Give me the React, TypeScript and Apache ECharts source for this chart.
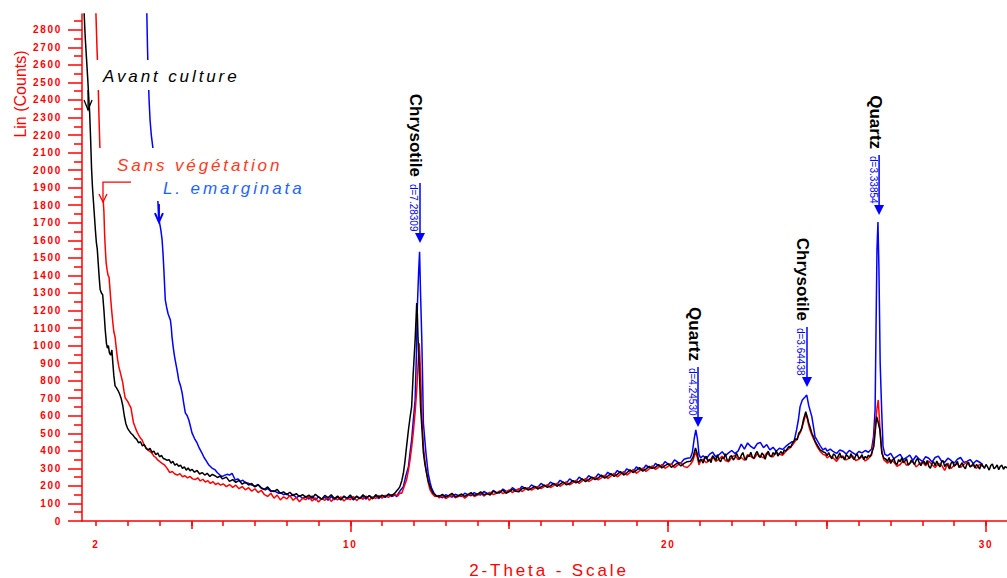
import React, { useEffect, useRef } from 'react';
import * as echarts from 'echarts';

// ---------- data (2-Theta, Lin counts) ----------
const avantCulture: number[][] = [
  [1.60,3050],[1.63,2880],[1.66,2760],[1.70,2640],[1.74,2520],[1.77,2420],[1.80,2330],[1.83,2180],[1.86,2010],[1.89,1900],
  [1.92,1820],[1.95,1740],[1.98,1660],[2.01,1590],[2.04,1550],[2.07,1470],[2.10,1390],[2.13,1320],[2.17,1300],[2.21,1290],
  [2.25,1200],[2.29,1090],[2.33,1010],[2.36,985],[2.39,1000],[2.42,960],[2.46,945],[2.50,975],[2.53,900],[2.56,830],
  [2.60,770],[2.64,760],[2.69,745],[2.74,725],[2.79,700],[2.84,660],[2.89,600],[2.94,555],[2.99,530],[3.04,515],
  [3.10,500],[3.16,490],[3.22,475],[3.28,465],[3.34,445],[3.40,452],[3.46,428],[3.52,436],[3.58,412],[3.64,405],
  [3.70,414],[3.76,392],[3.82,398],[3.88,378],[3.94,388],[4.00,366],[4.06,374],[4.12,356],[4.18,352],[4.24,346],
  [4.30,350],[4.36,330],[4.42,340],[4.48,318],[4.54,326],[4.60,312],[4.66,318],[4.72,300],[4.78,308],[4.84,290],
  [4.90,302],[4.96,286],[5.02,295],[5.10,278],[5.18,288],[5.26,268],[5.34,276],[5.42,262],[5.50,272],[5.58,254],
  [5.66,266],[5.74,258],[5.82,248],[5.90,256],[5.98,240],
  [6.1,250],[6.2,226],[6.3,236],[6.4,220],[6.5,232],[6.6,210],[6.7,222],[6.8,205],[6.9,214],[7.0,194],
  [7.1,206],[7.2,186],[7.3,180],[7.4,194],[7.5,172],[7.6,168],[7.7,180],[7.8,158],[7.9,166],[8.0,150],
  [8.1,164],[8.2,144],[8.3,156],[8.4,140],[8.5,150],[8.6,136],[8.7,148],[8.8,130],[8.9,152],[9.0,138],
  [9.1,124],[9.2,146],[9.3,132],[9.4,150],[9.5,128],[9.6,142],[9.7,122],[9.8,140],[9.9,130],[10.0,148],
  [10.1,124],[10.2,140],[10.3,128],[10.4,150],[10.5,132],[10.6,144],[10.7,126],[10.8,150],[10.9,135],[11.0,148],
  [11.1,138],[11.2,154],[11.3,145],
  [11.41,160],[11.46,172],[11.51,182],[11.56,196],[11.62,230],[11.67,272],[11.72,340],[11.77,424],[11.83,520],[11.88,590],
  [11.93,652],[11.98,843],[12.04,1032],[12.09,1243],[12.11,1180],[12.13,1050],[12.15,960],[12.17,880],[12.21,652],[12.25,538],
  [12.30,388],[12.35,320],[12.40,274],[12.45,230],[12.51,196],[12.56,175],[12.60,160],[12.66,150],[12.72,142],
  [12.8,140],[12.9,152],[13.0,136],[13.1,146],[13.2,158],[13.3,138],[13.4,144],[13.5,154],[13.6,140],[13.7,150],
  [13.8,162],[13.9,146],[14.0,152],[14.1,166],[14.2,150],[14.3,156],[14.4,148],[14.5,170],[14.6,160],[14.7,164],
  [14.8,176],[14.9,158],[15.0,168],[15.1,180],[15.2,170],[15.3,166],[15.4,184],[15.5,190],[15.6,176],[15.7,186],
  [15.8,198],[15.9,182],[16.0,194],[16.1,204],[16.2,192],[16.3,200],[16.4,215],[16.5,198],[16.6,210],[16.7,222],
  [16.8,206],[16.9,214],[17.0,230],[17.1,218],[17.2,226],[17.3,240],[17.4,224],[17.5,236],[17.6,250],[17.7,236],
  [17.8,245],[17.9,262],[18.0,244],[18.1,256],[18.2,270],[18.3,254],[18.4,266],[18.5,282],[18.6,262],[18.7,275],
  [18.8,292],[18.9,276],[19.0,288],[19.1,305],[19.2,284],[19.3,296],[19.4,312],[19.5,300],[19.6,306],[19.7,322],
  [19.8,302],[19.9,316],[20.0,326],[20.1,306],[20.2,318],[20.3,332],[20.4,314],[20.5,328],[20.6,338],
  [20.7,340],[20.78,362],[20.86,416],[20.92,380],[20.97,335],[21.02,352],
  [21.05,348],[21.1,330],[21.15,362],[21.2,368],[21.25,341],[21.3,352],[21.35,333],[21.4,372],[21.45,360],[21.5,345],
  [21.55,378],[21.6,350],[21.65,338],[21.7,362],[21.75,355],[21.8,384],[21.85,350],[21.9,342],[21.95,368],[22.0,372],
  [22.05,348],[22.1,360],[22.15,386],[22.2,366],[22.25,352],[22.3,375],[22.35,390],[22.4,360],[22.45,348],[22.5,372],
  [22.55,368],[22.6,392],[22.65,364],[22.7,358],[22.75,384],[22.8,396],[22.85,370],[22.9,362],[22.95,388],[23.0,376],
  [23.05,352],[23.1,380],[23.15,398],[23.2,372],[23.25,365],[23.3,390],[23.35,378],[23.4,402],[23.45,370],[23.5,384],
  [23.55,396],[23.6,380],[23.65,405],[23.7,398],[23.75,412],[23.8,425],[23.85,418],[23.9,440],
  [24.0,468],[24.06,462],[24.11,500],[24.16,512],[24.20,528],[24.26,580],[24.33,623],[24.38,590],[24.42,560],[24.46,538],
  [24.52,500],[24.57,481],[24.62,455],[24.70,430],[24.78,405],[24.87,395],[24.95,388],
  [25.0,372],[25.05,390],[25.1,368],[25.15,355],[25.2,382],[25.25,376],[25.3,352],[25.35,370],[25.4,388],[25.45,360],
  [25.5,366],[25.55,348],[25.6,378],[25.65,370],[25.7,355],[25.75,384],[25.8,362],[25.85,350],[25.9,372],[25.95,380],
  [26.0,356],[26.05,364],[26.1,378],[26.15,350],[26.2,368],[26.25,358],[26.3,375],[26.35,366],[26.4,385],
  [26.47,424],[26.52,520],[26.56,595],[26.61,560],[26.66,519],[26.72,388],[26.78,360],
  [26.85,352],[26.9,340],[26.95,362],[27.0,328],[27.05,345],[27.1,356],[27.15,330],[27.2,322],[27.25,350],[27.3,338],
  [27.35,360],[27.4,332],[27.45,342],[27.5,355],[27.55,318],[27.6,326],[27.65,348],[27.7,336],[27.75,322],[27.8,345],
  [27.85,358],[27.9,330],[27.95,316],[28.0,334],[28.05,340],[28.1,320],[28.15,345],[28.2,312],[28.25,300],[28.3,328],
  [28.35,338],[28.4,315],[28.45,342],[28.5,322],[28.55,308],[28.6,336],[28.65,344],[28.7,310],[28.75,326],[28.8,318],
  [28.85,296],[28.9,330],[28.95,338],[29.0,312],[29.05,322],[29.1,340],[29.15,305],[29.2,318],[29.25,332],[29.3,310],
  [29.35,298],[29.4,325],[29.45,335],[29.5,308],[29.55,316],[29.6,330],[29.65,302],[29.7,322],[29.75,312],[29.8,296],
  [29.85,326],[29.9,315],[29.95,300],[30.0,322],[30.05,308],[30.1,290],[30.15,316],[30.2,325],[30.25,298],[30.3,306],
  [30.35,320],[30.4,292],[30.45,312],[30.5,318],[30.55,295],[30.6,310],[30.66,302]
];

const sansVegetation: number[][] = [
  [1.97,3100],[2.00,2880],[2.03,2700],[2.06,2560],[2.09,2330],[2.12,2140],[2.16,2000],[2.19,1940],[2.22,1850],[2.25,1760],
  [2.27,1640],[2.29,1560],[2.32,1470],[2.35,1430],[2.38,1400],[2.41,1390],[2.44,1320],[2.47,1250],[2.50,1186],[2.53,1130],
  [2.56,1080],[2.60,1049],[2.64,980],[2.68,920],[2.72,878],[2.76,850],[2.80,820],[2.84,790],[2.88,740],[2.92,700],
  [2.96,692],[3.00,680],[3.05,662],[3.10,645],[3.14,600],[3.18,560],[3.23,536],[3.28,512],[3.34,490],[3.40,472],
  [3.45,462],[3.52,432],[3.58,416],[3.64,404],[3.70,396],[3.76,386],[3.82,370],[3.88,362],[3.94,348],[4.00,340],
  [4.08,328],[4.16,318],[4.24,300],[4.32,276],[4.40,282],[4.48,268],[4.56,262],[4.64,270],[4.72,252],[4.80,258],
  [4.88,246],[4.96,254],[5.04,240],[5.12,236],[5.20,246],[5.28,228],[5.36,238],[5.44,222],[5.52,230],[5.60,214],
  [5.68,224],[5.76,208],[5.84,216],[5.92,204],
  [6.0,212],[6.1,196],[6.2,208],[6.3,192],[6.4,204],[6.5,184],[6.6,196],[6.7,178],[6.8,190],[6.9,170],
  [7.0,184],[7.1,162],[7.2,175],[7.3,150],[7.4,140],[7.5,158],[7.6,130],[7.7,148],[7.8,120],[7.9,138],
  [8.0,126],[8.1,145],[8.2,118],[8.3,134],[8.4,110],[8.5,130],[8.6,122],[8.7,140],[8.8,114],[8.9,132],
  [9.0,108],[9.1,128],[9.2,118],[9.3,136],[9.4,112],[9.5,130],[9.6,120],[9.7,138],[9.8,114],[9.9,130],
  [10.0,122],[10.1,140],[10.2,116],[10.3,135],[10.4,124],[10.5,142],[10.6,118],[10.7,138],[10.8,128],[10.9,145],
  [11.0,130],[11.1,146],[11.2,134],[11.3,150],
  [11.41,150],[11.50,144],[11.56,160],[11.62,158],[11.70,200],[11.77,234],[11.83,290],[11.88,348],[11.93,420],[11.98,500],
  [12.04,620],[12.09,747],[12.13,880],[12.17,1013],[12.21,850],[12.25,614],[12.30,424],[12.35,340],[12.40,272],[12.45,220],
  [12.51,177],[12.58,155],[12.66,139],[12.72,145],
  [12.8,132],[12.9,146],[13.0,128],[13.1,138],[13.2,150],[13.3,132],[13.4,140],[13.5,148],[13.6,130],[13.7,145],
  [13.8,156],[13.9,140],[14.0,148],[14.1,160],[14.2,142],[14.3,155],[14.4,164],[14.5,150],[14.6,158],[14.7,172],
  [14.8,156],[14.9,166],[15.0,178],[15.1,162],[15.2,174],[15.3,184],[15.4,168],[15.5,180],[15.6,190],[15.7,176],
  [15.8,186],[15.9,198],[16.0,184],[16.1,196],[16.2,208],[16.3,190],[16.4,202],[16.5,215],[16.6,198],[16.7,210],
  [16.8,224],[16.9,206],[17.0,218],[17.1,232],[17.2,214],[17.3,228],[17.4,242],[17.5,225],[17.6,236],[17.7,250],
  [17.8,234],[17.9,246],[18.0,260],[18.1,242],[18.2,256],[18.3,272],[18.4,252],[18.5,266],[18.6,282],[18.7,262],
  [18.8,276],[18.9,294],[19.0,272],[19.1,286],[19.2,302],[19.3,282],[19.4,296],[19.5,315],[19.6,294],[19.7,306],
  [19.8,322],[19.9,300],[20.0,312],[20.1,326],[20.2,304],[20.3,318],[20.4,332],[20.5,310],[20.6,305],
  [20.7,322],[20.78,345],[20.86,393],[20.92,360],[20.97,320],[21.02,342],
  [21.1,352],[21.2,332],[21.3,345],[21.4,366],[21.5,340],[21.6,352],[21.7,370],[21.8,345],[21.9,338],[22.0,362],
  [22.1,375],[22.2,350],[22.3,362],[22.4,346],[22.5,378],[22.6,368],[22.7,355],[22.8,382],[22.9,370],[23.0,360],
  [23.1,388],[23.2,372],[23.3,366],[23.4,392],[23.5,380],[23.6,374],[23.7,398],[23.8,412],[23.9,430],
  [24.0,455],[24.06,470],[24.11,490],[24.16,505],[24.21,530],[24.27,570],[24.33,610],[24.38,582],[24.42,545],[24.46,520],
  [24.52,490],[24.57,470],[24.62,450],[24.70,420],[24.78,398],[24.87,380],[24.95,375],
  [25.0,360],[25.1,372],[25.2,358],[25.3,340],[25.4,366],[25.5,370],[25.6,348],[25.7,358],[25.8,372],[25.9,345],
  [26.0,352],[26.1,368],[26.2,342],[26.3,356],[26.4,375],
  [26.47,460],[26.52,557],[26.57,640],[26.61,690],[26.66,538],[26.72,405],[26.78,350],
  [26.9,330],[27.0,348],[27.1,336],[27.2,312],[27.3,322],[27.4,345],[27.5,318],[27.6,330],[27.7,340],[27.8,308],
  [27.9,325],[28.0,336],[28.1,315],[28.2,342],[28.3,320],[28.4,305],[28.5,328],[28.6,318],[28.7,288],[28.8,330],
  [28.9,300],[29.0,318],[29.1,326],[29.2,305],[29.3,322],[29.4,335],[29.5,310],[29.6,318],[29.7,300],[29.8,324],
  [29.9,310]
];

const lEmarginata: number[][] = [
  [3.56,3100],[3.60,2884],[3.62,2700],[3.64,2560],[3.67,2400],[3.70,2287],[3.74,2200],[3.79,2127],[3.84,2050],[3.90,1940],
  [3.94,1850],[3.97,1735],[4.00,1700],[4.04,1660],[4.08,1602],[4.11,1520],[4.14,1414],[4.18,1260],[4.22,1220],[4.27,1180],
  [4.34,1146],[4.37,1100],[4.39,1051],[4.43,990],[4.46,950],[4.49,918],[4.53,880],[4.57,840],[4.60,804],[4.66,770],
  [4.71,730],[4.76,670],[4.81,616],[4.87,600],[4.92,576],[4.97,540],[5.02,502],[5.10,470],[5.18,445],[5.25,415],
  [5.33,388],[5.40,362],[5.48,340],[5.55,319],[5.65,302],[5.75,291],[5.82,275],[5.90,262],[5.96,253],
  [6.04,260],[6.12,266],[6.20,262],[6.28,272],[6.38,234],[6.46,240],[6.54,226],[6.62,232],[6.70,218],[6.80,215],
  [6.9,205],[7.0,198],[7.1,208],[7.2,190],[7.33,177],[7.4,185],[7.5,168],[7.6,172],[7.75,158],[7.8,162],
  [7.9,150],[8.0,156],[8.1,140],[8.2,152],[8.3,132],[8.4,145],[8.5,128],[8.6,140],[8.7,125],[8.8,142],
  [8.9,120],[9.0,138],[9.1,125],[9.2,135],[9.3,118],[9.4,140],[9.5,122],[9.6,136],[9.7,120],[9.8,142],
  [9.9,125],[10.0,138],[10.1,120],[10.2,142],[10.3,128],[10.4,140],[10.5,125],[10.6,145],[10.7,130],[10.8,142],
  [10.9,128],[11.0,145],[11.1,135],[11.2,150],[11.3,140],
  [11.41,148],[11.46,139],[11.52,160],[11.58,175],[11.67,196],[11.75,260],[11.83,310],[11.88,390],[11.93,462],[11.98,570],
  [12.04,690],[12.08,950],[12.11,1221],[12.15,1420],[12.18,1535],[12.21,1300],[12.25,1032],[12.28,760],[12.30,557],[12.38,388],
  [12.45,272],[12.51,220],[12.56,186],[12.63,160],[12.72,139],
  [12.8,145],[12.9,132],[13.0,150],[13.1,142],[13.2,136],[13.3,152],[13.4,146],[13.5,140],[13.6,158],[13.7,150],
  [13.8,144],[13.9,162],[14.0,152],[14.1,148],[14.2,168],[14.3,158],[14.4,154],[14.5,174],[14.6,162],[14.7,160],
  [14.8,182],[14.9,170],[15.0,168],[15.1,190],[15.2,178],[15.3,176],[15.4,198],[15.5,186],[15.6,184],[15.7,206],
  [15.8,194],[15.9,192],[16.0,214],[16.1,202],[16.2,200],[16.3,222],[16.4,210],[16.5,208],[16.6,232],[16.7,220],
  [16.8,216],[16.9,240],[17.0,228],[17.1,225],[17.2,250],[17.3,236],[17.4,234],[17.5,258],[17.6,246],[17.7,244],
  [17.8,268],[17.9,255],[18.0,252],[18.1,278],[18.2,264],[18.3,262],[18.4,288],[18.5,274],[18.6,272],[18.7,298],
  [18.8,284],[18.9,282],[19.0,308],[19.1,294],[19.2,292],[19.3,318],[19.4,304],[19.5,300],[19.6,328],[19.7,314],
  [19.8,312],[19.9,338],[20.0,325],[20.1,322],[20.2,348],[20.3,335],[20.4,330],[20.5,352],[20.6,358],
  [20.7,360],[20.76,390],[20.82,470],[20.87,519],[20.92,470],[20.97,380],[21.02,360],
  [21.1,372],[21.2,355],[21.3,380],[21.4,392],[21.5,365],[21.6,378],[21.7,395],[21.8,372],[21.9,388],[22.0,402],
  [22.1,385],[22.2,398],[22.3,438],[22.4,410],[22.5,445],[22.6,425],[22.7,412],[22.8,440],[22.9,448],[23.0,418],
  [23.1,436],[23.2,405],[23.3,420],[23.4,398],[23.5,415],[23.6,408],[23.7,425],[23.8,440],[23.9,452],
  [23.95,445],[24.04,519],[24.10,580],[24.15,652],[24.22,690],[24.30,705],[24.36,718],[24.42,660],[24.52,595],[24.57,540],
  [24.62,481],[24.71,452],[24.78,430],[24.87,405],[24.95,415],
  [25.0,398],[25.1,410],[25.2,395],[25.3,385],[25.4,405],[25.5,398],[25.6,382],[25.7,402],[25.8,390],[25.9,378],
  [26.0,396],[26.1,388],[26.2,402],[26.3,392],[26.4,410],
  [26.46,480],[26.51,633],[26.54,1100],[26.57,1550],[26.60,1704],[26.63,1450],[26.67,900],[26.72,616],[26.76,424],[26.82,380],
  [26.9,372],[27.0,385],[27.1,356],[27.2,368],[27.3,380],[27.4,350],[27.5,362],[27.6,375],[27.7,345],[27.8,372],
  [27.9,352],[28.0,340],[28.1,366],[28.2,358],[28.3,336],[28.4,362],[28.5,370],[28.6,342],[28.7,335],[28.8,358],
  [28.9,345],[29.0,330],[29.1,352],[29.2,362],[29.3,334],[29.4,340],[29.5,350],[29.6,328],[29.7,345],[29.8,335],
  [29.9,322]
];

// ---------- axes ----------
const yTickValues = [0,100,200,300,400,500,600,700,800,900,1000,1100,1200,1300,1400,1500,1600,1700,1800,1900,2000,2100,2200,2300,2400,2500,2600,2700,2800];
const yMinorTickValues = [50,150,250,350,450,550,650,750,850,950,1050,1150,1250,1350,1450,1550,1650,1750,1850,1950,2050,2150,2250,2350,2450,2550,2650,2750,2850];
const xSmallTicks = [2,3,4,5,6,7,8,9,10,11,12,13,14,15,16,17,18,19,20,21,22,23,24,25,26,27,28,29,30];
const xMidTicks = [5,15,25];
const xBigTicks = [10,20,30];
const xTickLabels = [2,10,20,30];

// ---------- peak annotations ----------
const peakNotes = [
  { phase: 'Chrysotile', d: 'd=7.28309', x: 12.193, tip: 1585 },
  { phase: 'Quartz', d: 'd=4.24530', x: 20.939, tip: 536 },
  { phase: 'Chrysotile', d: 'd=3.64438', x: 24.368, tip: 764 },
  { phase: 'Quartz', d: 'd=3.33854', x: 26.636, tip: 1744 }
];

const RED = '#ff0000';
const SPACED = 'Arimo, "Liberation Sans", Arial, sans-serif';
const PLAIN = '"Liberation Sans", Arial, sans-serif';
const css = `.xrd text[style*="Arimo"]{letter-spacing:0.17em;}`;

export default function App() {
  const ref = useRef<HTMLDivElement>(null);
  useEffect(() => {
    document.body.style.margin = '0';
    const chart = echarts.init(ref.current!, null, { renderer: 'svg', width: 1007, height: 578 });
    const tickStyle = { color: RED, width: 1.5 };
    const xBase = {
      type: 'value', min: 1.5596, max: 30.66, position: 'bottom',
      splitLine: { show: false }, axisLine: { show: false, onZero: false },
      axisLabel: { show: false }
    };
    const yBase = {
      type: 'value', min: 0, max: 2890, position: 'left',
      splitLine: { show: false }, axisLine: { show: false, onZero: false },
      axisLabel: { show: false }
    };
    const line = (data: number[][], color: string, name: string) => ({
      type: 'line', name, data, showSymbol: false, symbol: 'none', clip: true,
      lineStyle: { color, width: 1.5 }, itemStyle: { color }, silent: true
    });
    chart.setOption({
      animation: false,
      grid: { left: 82, right: 0, top: 14, bottom: 57 },
      xAxis: [
        {
          ...xBase,
          axisLine: { show: true, onZero: false, lineStyle: { color: RED, width: 1.5 } },
          axisTick: { show: true, customValues: xSmallTicks, length: 5, lineStyle: tickStyle },
          axisLabel: {
            show: true, customValues: xTickLabels, margin: 18, color: RED, fontSize: 10,
            fontWeight: 'bold', fontFamily: SPACED, formatter: (v: number) => String(v)
          }
        },
        { ...xBase, axisTick: { show: true, customValues: xMidTicks, length: 8, lineStyle: tickStyle } },
        { ...xBase, axisTick: { show: true, customValues: xBigTicks, length: 11, lineStyle: tickStyle } }
      ],
      yAxis: [
        {
          ...yBase,
          axisLine: { show: true, onZero: false, lineStyle: { color: RED, width: 1.5 } },
          axisTick: { show: true, customValues: yTickValues, length: 14, lineStyle: tickStyle },
          axisLabel: {
            show: true, customValues: yTickValues, margin: 20, color: RED, fontSize: 10,
            fontWeight: 'bold', fontFamily: SPACED, formatter: (v: number) => String(v)
          }
        },
        { ...yBase, axisTick: { show: true, customValues: yMinorTickValues, length: 8, lineStyle: tickStyle } }
      ],
      series: [
        line(lEmarginata, '#0000ff', 'L. emarginata'),
        line(sansVegetation, '#ff0000', 'Sans végétation'),
        line(avantCulture, '#000000', 'Avant culture')
      ]
    });

    const px = (x: number, y: number) => chart.convertToPixel({ seriesIndex: 0 }, [x, y]) as number[];
    const g: any[] = [];
    const txt = (o: any) => ({
      type: 'text', z: 101, x: o.x, y: o.y, rotation: o.rotation || 0,
      style: {
        text: o.text, fill: o.fill, fontSize: o.fontSize, fontFamily: o.fontFamily,
        fontWeight: o.fontWeight || 'normal', fontStyle: o.fontStyle || 'normal',
        align: o.align, verticalAlign: 'middle', textAlign: o.align, textVerticalAlign: 'middle'
      }
    });

    // white masks behind the legend notes
    g.push({ type: 'rect', z: 100, shape: { x: 95, y: 60, width: 150, height: 30 }, style: { fill: '#ffffff' } });
    g.push({ type: 'rect', z: 100, shape: { x: 95, y: 148, width: 215, height: 53 }, style: { fill: '#ffffff' } });

    // legend notes
    g.push(txt({ x: 103, y: 76, text: 'Avant culture', fill: '#000000', fontSize: 17, fontFamily: SPACED, fontStyle: 'italic', align: 'left' }));
    g.push(txt({ x: 117, y: 165.5, text: 'Sans végétation', fill: '#ff3a1a', fontSize: 17, fontFamily: SPACED, fontStyle: 'italic', align: 'left' }));
    g.push(txt({ x: 163, y: 188.5, text: 'L. emarginata', fill: '#1e64ff', fontSize: 17, fontFamily: SPACED, fontStyle: 'italic', align: 'left' }));

    // legend arrows (tips placed on the curves)
    const bt = px(1.75, 2343);
    g.push({ type: 'line', z: 101, shape: { x1: bt[0], y1: bt[1] - 20, x2: bt[0], y2: bt[1] }, style: { stroke: '#000', lineWidth: 1.3 } });
    g.push({ type: 'polyline', z: 101, shape: { points: [[bt[0] - 4, bt[1] - 10], [bt[0], bt[1]], [bt[0] + 4, bt[1] - 10]] }, style: { stroke: '#000', lineWidth: 1.3, fill: 'none' } });
    const rt = px(2.22, 1818);
    g.push({ type: 'polyline', z: 101, shape: { points: [[rt[0] + 28, rt[1] - 20], [rt[0], rt[1] - 20], [rt[0], rt[1]]] }, style: { stroke: '#ff0000', lineWidth: 1.3, fill: 'none' } });
    g.push({ type: 'polyline', z: 101, shape: { points: [[rt[0] - 4, rt[1] - 8], [rt[0], rt[1]], [rt[0] + 4, rt[1] - 8]] }, style: { stroke: '#ff0000', lineWidth: 1.3, fill: 'none' } });
    const lt = px(3.98, 1704);
    g.push({ type: 'line', z: 101, shape: { x1: lt[0], y1: lt[1] - 18, x2: lt[0], y2: lt[1] }, style: { stroke: '#0000ff', lineWidth: 2 } });
    g.push({ type: 'polyline', z: 101, shape: { points: [[lt[0] - 4, lt[1] - 9], [lt[0], lt[1]], [lt[0] + 4, lt[1] - 9]] }, style: { stroke: '#0000ff', lineWidth: 2, fill: 'none' } });

    // peak annotations
    peakNotes.forEach((p) => {
      const [x, y] = px(p.x, p.tip);
      g.push({ type: 'line', z: 101, shape: { x1: x, y1: y - 60, x2: x, y2: y - 8 }, style: { stroke: '#0000ff', lineWidth: 1.5 } });
      g.push({ type: 'polygon', z: 101, shape: { points: [[x - 5, y - 10], [x + 5, y - 10], [x, y]] }, style: { fill: '#0000ff' } });
      g.push(txt({ x: x - 6, y: y - 59, rotation: -Math.PI / 2, text: p.d, fill: '#0000ff', fontSize: 10, fontFamily: PLAIN, align: 'left' }));
      g.push(txt({ x: x - 4, y: y - 66, rotation: -Math.PI / 2, text: p.phase, fill: '#000000', fontSize: 17, fontFamily: PLAIN, fontWeight: 'bold', align: 'right' }));
    });

    // axis titles
    g.push(txt({ x: 20, y: 94, rotation: Math.PI / 2, text: 'Lin (Counts)', fill: RED, fontSize: 16, fontFamily: PLAIN, align: 'center' }));
    g.push(txt({ x: 549, y: 570, text: '2-Theta - Scale', fill: RED, fontSize: 17, fontFamily: SPACED, align: 'center' }));

    chart.setOption({ graphic: g });
    return () => chart.dispose();
  }, []);
  return (
    <div className="xrd" style={{ position: 'fixed', left: 0, top: 0, width: 1007, height: 578, background: '#fff' }}>
      <style>{css}</style>
      <div ref={ref} style={{ width: 1007, height: 578 }} />
    </div>
  );
}
